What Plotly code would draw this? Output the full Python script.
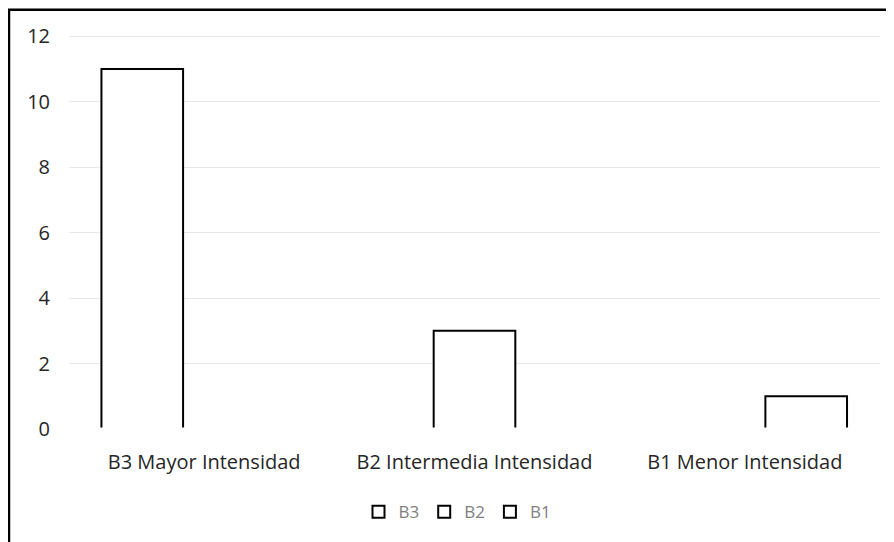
import plotly.graph_objects as go

categories = ["B3 Mayor Intensidad", "B2 Intermedia Intensidad", "B1 Menor Intensidad"]
series_names = ["B3", "B2", "B1"]
b3_values = [11, None, None]
b2_values = [None, 3, None]
b1_values = [None, None, 1]
y_ticks = [0, 2, 4, 6, 8, 10, 12]

series_values = [b3_values, b2_values, b1_values]
offsets = [-0.38, -0.151, 0.076]

fig = go.Figure()
for name, vals, off in zip(series_names, series_values, offsets):
    fig.add_trace(go.Bar(
        x=categories, y=vals, name=name,
        width=0.302, offset=off,
        marker=dict(color="white", line=dict(color="black", width=2)),
    ))

# page body has an 8px margin, so the figure is sized/offset to compensate
W, H = 886, 534
L, R, T, B = 61, 14, 27, 109
pw, ph = W - L - R, H - T - B

font_family = "Open Sans, Liberation Sans, sans-serif"

fig.update_layout(
    width=W, height=H,
    margin=dict(l=L, r=R, t=T, b=B),
    paper_bgcolor="white", plot_bgcolor="white",
    barmode="overlay",
    showlegend=True,
    legend=dict(orientation="h", x=(449.5 - L) / pw, xanchor="center",
                y=-(509 - (H - B)) / ph, yanchor="middle",
                font=dict(family=font_family, size=17, color="#808080"),
                itemwidth=30, tracegroupgap=0),
    font=dict(family=font_family),
    xaxis=dict(showgrid=False, showline=False, zeroline=False, ticks="",
               tickfont=dict(size=20, color="#262626"), ticklabelstandoff=19),
    yaxis=dict(range=[0, 12.04], tickvals=y_ticks, showgrid=True, gridcolor="#e8e8e8", gridwidth=1,
               zeroline=False, showline=False, ticks="",
               tickfont=dict(size=20, color="#262626"), ticklabelstandoff=18),
    shapes=[
        dict(type="line", xref="paper", yref="y", x0=0, x1=1, y0=0, y1=0,
             line=dict(color="white", width=3), layer="above"),
        dict(type="rect", xref="paper", yref="paper",
             x0=(1 - L) / pw, x1=(905 - L) / pw,
             y0=-(560 - (H - B)) / ph, y1=1 + (T - 1.5) / ph,
             line=dict(color="black", width=2.5), fillcolor="rgba(0,0,0,0)", layer="above"),
    ],
)

fig.write_html("out.html")
